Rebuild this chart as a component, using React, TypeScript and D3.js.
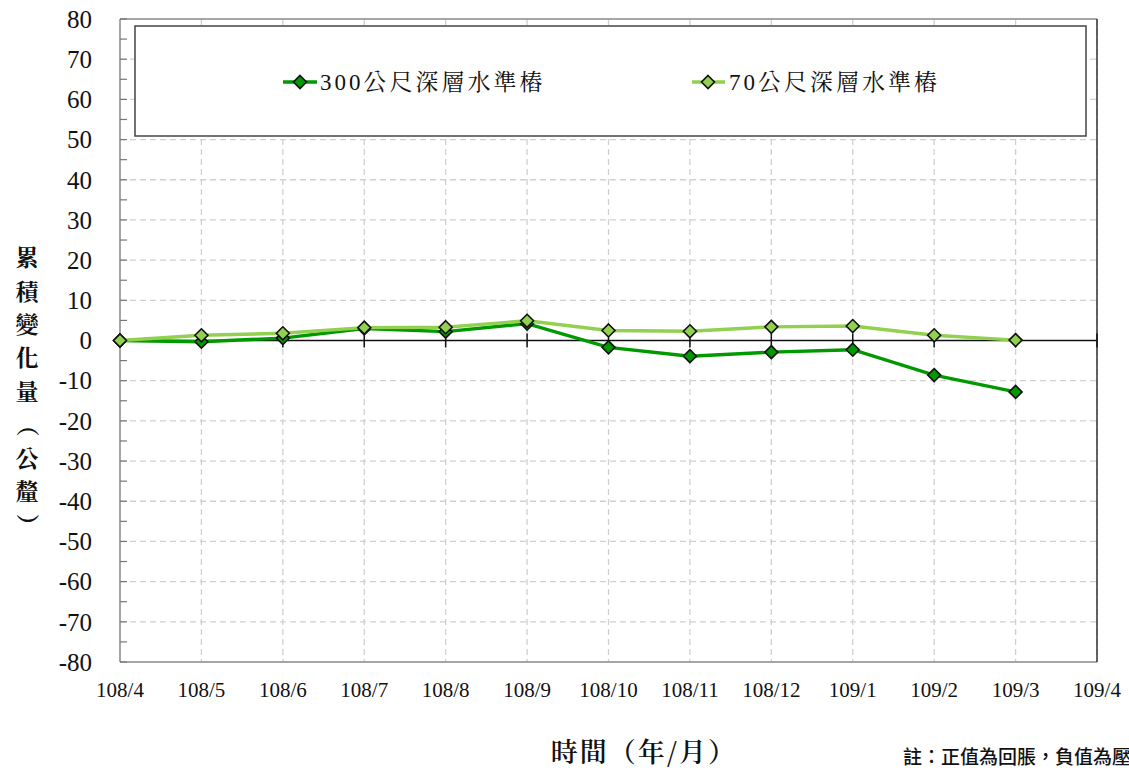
import React from "react";
import * as d3 from "d3";

const categories = ["108/4","108/5","108/6","108/7","108/8","108/9","108/10","108/11","108/12","109/1","109/2","109/3","109/4"];
const series300 = [0, -0.3, 0.6, 3.0, 2.2, 4.2, -1.7, -3.9, -2.9, -2.3, -8.6, -12.8];
const series70 = [0, 1.3, 1.8, 3.2, 3.3, 4.9, 2.5, 2.3, 3.4, 3.6, 1.3, 0.1];
const yTicks = [80,70,60,50,40,30,20,10,0,-10,-20,-30,-40,-50,-60,-70,-80];
const seriesNames = ["300公尺深層水準樁", "70公尺深層水準樁"];
const yTitleChars = ["累","積","變","化","量","（","公","釐","）"];

const W = 1129, H = 772;
const L = 120, R = 1097, T = 19, B = 662;
const C300 = "#009900";
const C70 = "#92D050";
const SERIF = "'Liberation Serif', 'Times New Roman', serif";
const MING = "'Noto Serif CJK TC', 'Noto Sans CJK TC', serif";
const MIXED = "'Liberation Serif', 'Noto Serif CJK TC', serif";
const SANS_CJK = "'Noto Sans CJK TC', sans-serif";

function Diamond({ x, y, fill }: { x: number; y: number; fill: string }) {
  const s = 6.5;
  return <path d={`M${x},${y - s}L${x + s},${y}L${x},${y + s}L${x - s},${y}Z`} fill={fill} stroke="#111" strokeWidth={1.6} />;
}

export default function App() {
  const x = d3.scalePoint<string>().domain(categories).range([L, R]);
  const y = d3.scaleLinear().domain([-80, 80]).range([B, T]);
  const line = d3.line<number>().x((_, i) => x(categories[i])!).y(d => y(d));
  const minor = d3.range(-80, 81, 5);

  return (
    <svg width={W} height={H} style={{ position: "absolute", left: 0, top: 0, background: "#fff" }}>
      {yTicks.filter(v => v !== 80 && v !== -80 && v !== 0).map(v => (
        <line key={"gy" + v} x1={L} x2={R} y1={y(v)} y2={y(v)} stroke="#d0d0d0" strokeWidth={1.3} strokeDasharray="6 4" />
      ))}
      {categories.slice(1).map(c => (
        <line key={"gx" + c} x1={x(c)} x2={x(c)} y1={T} y2={B} stroke="#d0d0d0" strokeWidth={1.3} strokeDasharray="6 4" />
      ))}
      <line x1={L} x2={R} y1={T} y2={T} stroke="#888" strokeWidth={1.5} />
      <line x1={L} x2={R} y1={B} y2={B} stroke="#888" strokeWidth={1.5} />
      <line x1={L} x2={L} y1={T} y2={B} stroke="#888" strokeWidth={1.5} />
      <line x1={R} x2={R} y1={T} y2={B} stroke="#333" strokeWidth={1.5} />
      {minor.map(v => (
        <line key={"mt" + v} x1={L} x2={L + 7} y1={y(v)} y2={y(v)} stroke="#777" strokeWidth={1.2} />
      ))}
      <line x1={L} x2={R} y1={y(0)} y2={y(0)} stroke="#111" strokeWidth={1.5} />
      {categories.slice(1).map(c => (
        <line key={"zt" + c} x1={x(c)} x2={x(c)} y1={y(0) - 7} y2={y(0) + 7} stroke="#111" strokeWidth={1.5} />
      ))}
      {yTicks.map(v => (
        <text key={"yl" + v} x={92} y={y(v)} dy="0.35em" textAnchor="end" style={{ fontFamily: SERIF }} fontSize={25} fill="#111">{v}</text>
      ))}
      {categories.map(c => (
        <text key={"xl" + c} x={x(c)} y={697} textAnchor="middle" style={{ fontFamily: SERIF }} fontSize={21} fill="#111">{c}</text>
      ))}
      <path d={line(series300)!} fill="none" stroke={C300} strokeWidth={3.4} />
      {series300.map((v, i) => <Diamond key={"m3" + i} x={x(categories[i])!} y={y(v)} fill={C300} />)}
      <path d={line(series70)!} fill="none" stroke={C70} strokeWidth={3.4} />
      {series70.map((v, i) => <Diamond key={"m7" + i} x={x(categories[i])!} y={y(v)} fill={C70} />)}
      <rect x={135} y={26} width={951} height={110} fill="#fff" stroke="#444" strokeWidth={1.5} />
      <line x1={283} x2={317} y1={82} y2={82} stroke={C300} strokeWidth={3.4} />
      <Diamond x={300} y={82} fill={C300} />
      <text x={320} y={82} dy="0.36em" style={{ fontFamily: MIXED }} fontSize={23} fill="#111" letterSpacing={3}>{seriesNames[0]}</text>
      <line x1={692} x2={725} y1={82} y2={82} stroke={C70} strokeWidth={3.4} />
      <Diamond x={708} y={82} fill={C70} />
      <text x={729} y={82} dy="0.36em" style={{ fontFamily: MIXED }} fontSize={23} fill="#111" letterSpacing={3}>{seriesNames[1]}</text>
      {yTitleChars.map((ch, i) => {
        const cy = 258 + i * 33.4;
        const rot = ch === "（" || ch === "）";
        return (
          <text key={"yt" + i} x={27} y={cy} dy="0.36em" textAnchor="middle" style={{ fontFamily: MING }} fontWeight={700} fontSize={23} fill="#111"
            transform={rot ? `rotate(90 27 ${cy})` : undefined}>{ch}</text>
        );
      })}
      <text x={644} y={752} dy="0.36em" textAnchor="middle" style={{ fontFamily: MING }} fontWeight={600} fontSize={27} fill="#111" letterSpacing={2}>時間（年/月）</text>
      <text x={903} y={757} dy="0.36em" style={{ fontFamily: SANS_CJK }} fontWeight={500} fontSize={19} fill="#111">註：正值為回脹，負值為壓縮</text>
    </svg>
  );
}
